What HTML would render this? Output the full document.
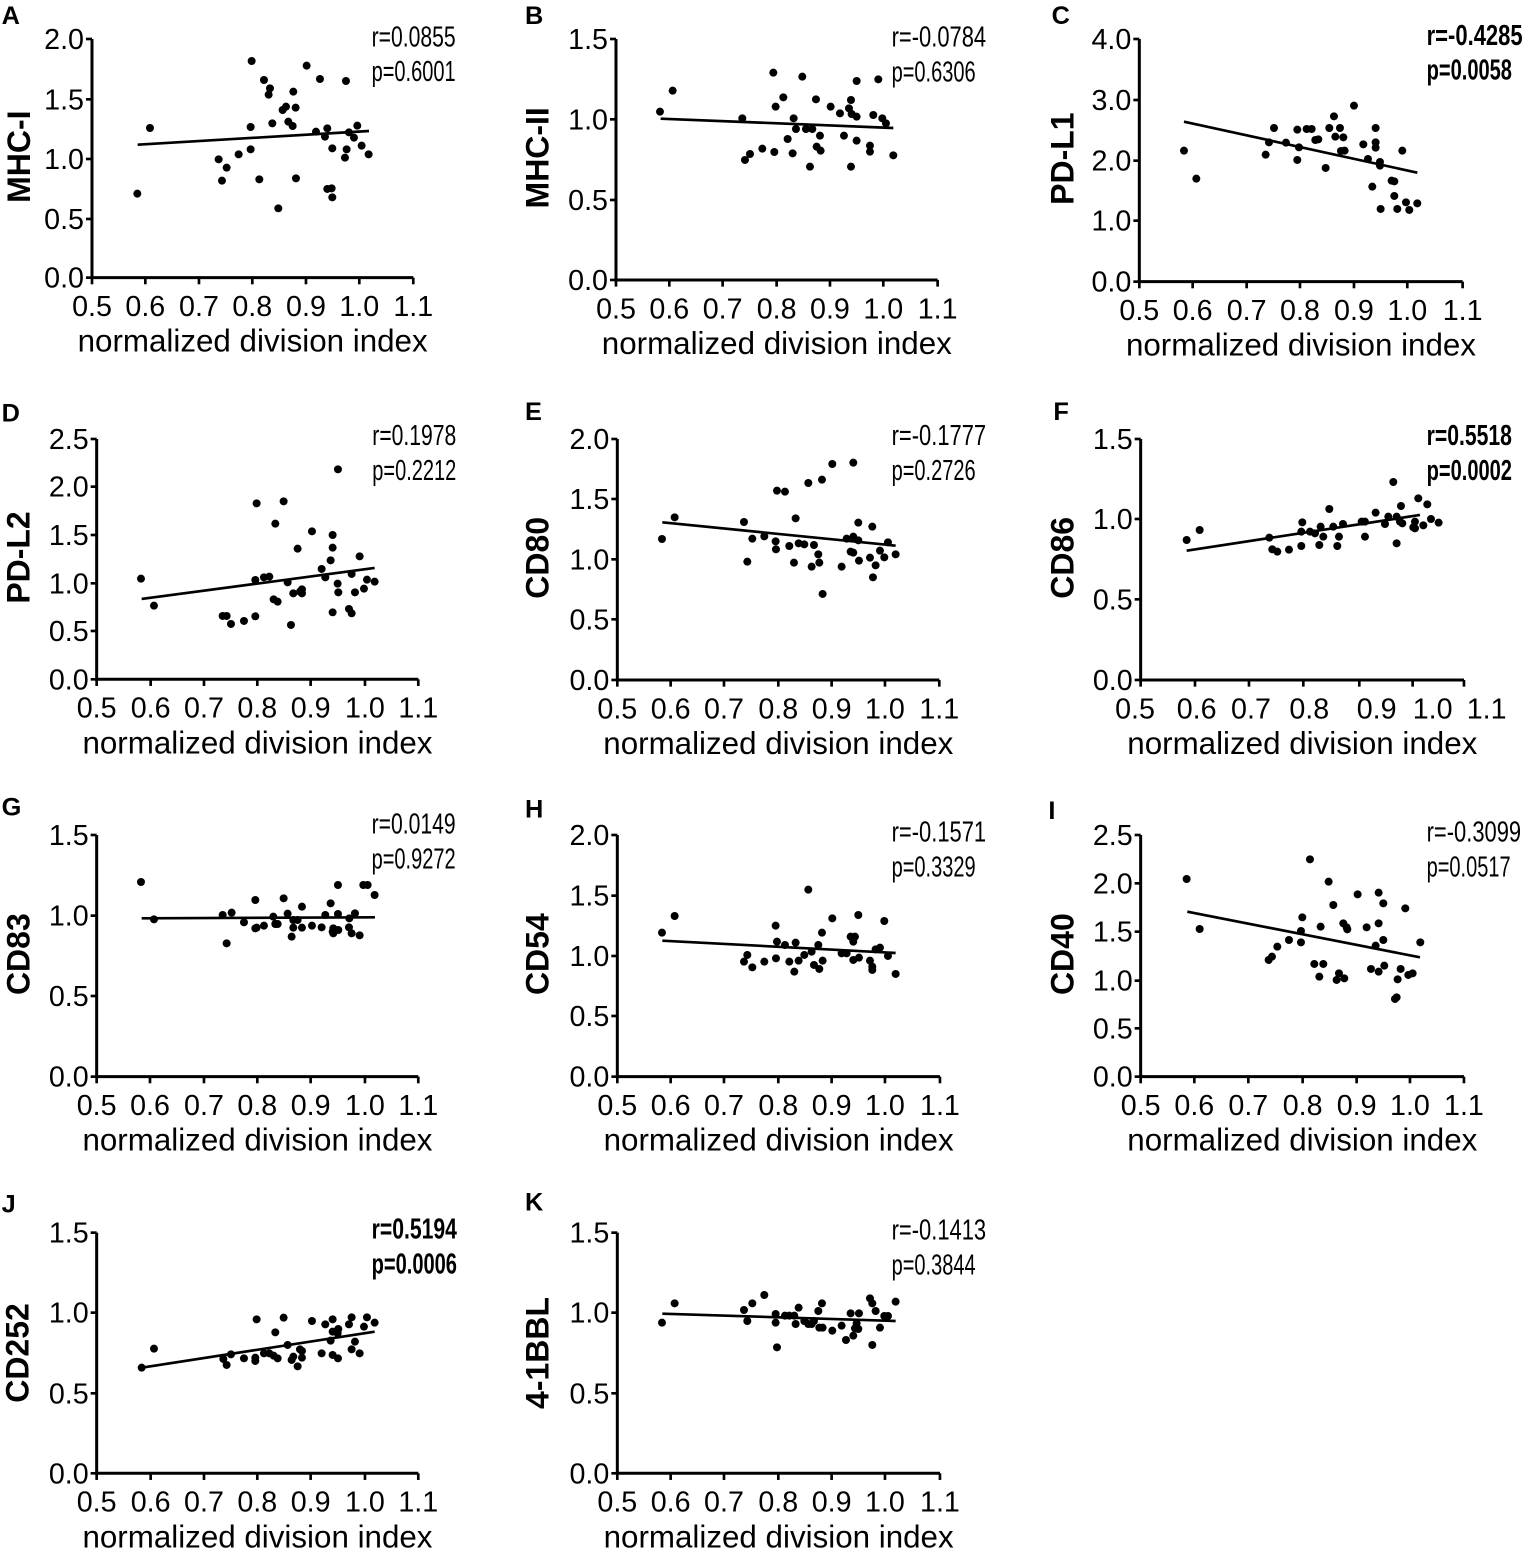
<!DOCTYPE html>
<html><head><meta charset="utf-8"><style>
html,body{margin:0;padding:0;background:#fff}
svg{display:block}
text{font-family:"Liberation Sans",Arial,sans-serif;fill:#000}
</style></head><body>
<svg id="s" width="1530" height="1555" viewBox="0 0 1530 1555" xmlns="http://www.w3.org/2000/svg"></svg>
<script>
const P=[
{o:[0,0],L:'A',lp:[5,72],ax:276,ty:117,by:833,rx:1240,xt:[276,436,597,757,918,1078,1240],yt:[['2.0',117],['1.5',298],['1.0',477],['0.5',657],['0.0',833]],yl:'MHC-I',ylx:90,st:['r=0.0855','p=0.6001'],sx:1115,sy:[140,243],b:0,ln:[413,434,1107,393],
pts:[[412,581],[450,384],[656,478],[666,542],[680,503],[716,463],[752,448],[752,381],[755,183],[778,538],[792,240],[810,265],[806,284],[817,370],[835,625],[848,330],[858,320],[865,365],[878,378],[880,275],[887,323],[888,535],[920,197],[948,395],[960,237],[975,410],[982,385],[982,567],[995,565],[997,445],[997,592],[1035,473],[1038,243],[1040,448],[1047,397],[1062,413],[1072,377],[1085,437],[1106,463]]},
{o:[510,0],L:'B',lp:[45,72],ax:318,ty:117,by:840,rx:1283,xt:[318,478,638,800,960,1120,1283],yt:[['1.5',117],['1.0',358],['0.5',600],['0.0',840]],yl:'MHC-II',ylx:115,st:['r=-0.0784','p=0.6306'],sx:1145,sy:[140,245],b:0,ln:[452,356,1150,384],
pts:[[450,335],[488,272],[697,355],[705,480],[720,462],[757,446],[790,218],[793,456],[797,320],[820,292],[833,417],[848,460],[851,355],[858,387],[877,230],[888,387],[900,500],[907,387],[918,298],[920,440],[930,407],[932,452],[962,320],[990,340],[1002,407],[1017,325],[1023,300],[1025,342],[1040,243],[1040,422],[1040,350],[1023,500],[1080,437],[1080,455],[1090,345],[1105,238],[1117,355],[1128,370],[1150,466]]},
{o:[1040,0],L:'C',lp:[35,72],ax:298,ty:117,by:845,rx:1268,xt:[298,458,620,780,942,1102,1268],yt:[['4.0',117],['3.0',300],['2.0',482],['1.0',662],['0.0',845]],yl:'PD-L1',ylx:100,st:['r=-0.4285','p=0.0058'],sx:1160,sy:[135,238],b:1,ln:[432,365,1132,518],
pts:[[432,452],[469,536],[677,464],[687,427],[702,384],[738,428],[772,389],[772,480],[777,442],[800,387],[815,387],[826,420],[835,418],[857,504],[868,384],[882,349],[886,410],[900,384],[903,453],[910,412],[914,452],[942,317],[970,433],[984,477],[997,560],[1007,384],[1007,427],[1007,443],[1020,486],[1020,497],[1022,627],[1055,542],[1063,544],[1063,588],[1072,627],[1087,452],[1098,607],[1108,630],[1132,610]]},
{o:[0,400],L:'D',lp:[5,64],ax:290,ty:117,by:838,rx:1255,xt:[290,452,612,772,932,1095,1255],yt:[['2.5',117],['2.0',260],['1.5',405],['1.0',550],['0.5',693],['0.0',838]],yl:'PD-L2',ylx:88,st:['r=0.1978','p=0.2212'],sx:1117,sy:[135,240],b:0,ln:[425,597,1124,504],
pts:[[423,536],[462,617],[668,648],[680,648],[693,672],[732,663],[766,649],[766,540],[770,310],[792,532],[808,530],[821,598],[826,371],[833,605],[851,304],[863,547],[873,675],[880,580],[893,446],[900,575],[906,580],[906,568],[936,394],[965,507],[976,532],[992,481],[998,405],[998,443],[998,637],[1014,208],[1013,551],[1015,577],[1047,627],[1055,640],[1055,522],[1065,577],[1079,469],[1092,566],[1101,539],[1124,545]]},
{o:[510,400],L:'E',lp:[45,60],ax:322,ty:117,by:840,rx:1288,xt:[322,482,642,805,965,1125,1288],yt:[['2.0',117],['1.5',297],['1.0',478],['0.5',658],['0.0',840]],yl:'CD80',ylx:115,st:['r=-0.1777','p=0.2726'],sx:1145,sy:[135,240],b:0,ln:[457,367,1157,437],
pts:[[456,417],[494,352],[702,366],[712,485],[727,416],[763,409],[797,424],[798,448],[801,272],[825,275],[838,438],[852,488],[857,355],[866,430],[883,433],[895,249],[905,500],[912,435],[925,463],[928,488],[936,239],[938,582],[967,192],[995,500],[1010,416],[1022,455],[1030,458],[1030,188],[1030,410],[1047,482],[1045,368],[1045,421],[1080,473],[1087,380],[1089,532],[1097,496],[1110,452],[1123,472],[1134,427],[1157,463]]},
{o:[1040,400],L:'F',lp:[40,60],ax:302,ty:117,by:840,rx:1272,xt:[302,465,627,790,958,1118,1272],xl:[285,470,633,808,1010,1178,1340],yt:[['1.5',117],['1.0',357],['0.5',598],['0.0',840]],yl:'CD86',ylx:100,st:['r=0.5518','p=0.0002'],sx:1160,sy:[135,240],b:1,ln:[440,452,1140,345],
pts:[[440,420],[479,390],[688,413],[697,448],[712,455],[747,449],[784,438],[787,367],[784,395],[810,395],[825,400],[838,435],[842,380],[850,410],[868,327],[880,380],[892,438],[897,410],[909,372],[965,365],[975,365],[975,410],[1007,338],[1035,372],[1045,350],[1060,246],[1070,430],[1070,350],[1080,365],[1083,318],[1087,370],[1120,382],[1125,385],[1125,365],[1135,295],[1150,376],[1162,313],[1173,357],[1196,368]]},
{o:[0,795],L:'G',lp:[5,62],ax:290,ty:120,by:845,rx:1255,xt:[290,450,612,772,932,1095,1255],yt:[['1.5',120],['1.0',362],['0.5',603],['0.0',845]],yl:'CD83',ylx:88,st:['r=0.0149','p=0.9272'],sx:1115,sy:[115,220],b:0,ln:[425,370,1125,367],
pts:[[423,261],[462,373],[668,360],[680,445],[695,353],[732,382],[766,400],[766,315],[770,398],[792,392],[820,365],[826,387],[833,387],[851,310],[863,356],[875,425],[880,398],[893,375],[906,335],[906,398],[936,392],[965,397],[976,360],[992,325],[998,410],[1000,400],[1014,357],[1014,270],[1015,405],[1047,397],[1055,415],[1065,355],[1079,421],[1090,270],[1103,270],[1124,300],[1048,370],[1000,415],[880,375]]},
{o:[510,795],L:'H',lp:[45,67],ax:322,ty:120,by:845,rx:1290,xt:[322,482,642,805,965,1125,1290],yt:[['2.0',120],['1.5',302],['1.0',483],['0.5',663],['0.0',845]],yl:'CD54',ylx:115,st:['r=-0.1571','p=0.3329'],sx:1145,sy:[140,245],b:0,ln:[457,437,1157,474],
pts:[[456,413],[494,363],[702,500],[712,480],[727,517],[763,500],[797,392],[798,490],[801,440],[825,450],[838,500],[853,530],[857,443],[866,497],[883,480],[895,284],[905,470],[912,510],[925,450],[928,522],[936,413],[938,497],[967,370],[995,475],[1010,475],[1022,425],[1030,440],[1030,495],[1035,425],[1047,488],[1045,360],[1080,497],[1087,525],[1097,463],[1110,458],[1123,378],[1134,483],[1157,537],[1087,515]]},
{o:[1040,795],L:'I',lp:[25,72],ax:302,ty:120,by:845,rx:1272,xt:[302,463,625,788,950,1110,1272],yt:[['2.5',120],['2.0',265],['1.5',410],['1.0',557],['0.5',700],['0.0',845]],yl:'CD40',ylx:100,st:['r=-0.3099','p=0.0517'],sx:1160,sy:[140,245],b:0,ln:[442,350,1140,487],
pts:[[440,252],[479,402],[686,495],[696,485],[712,455],[747,435],[783,408],[783,442],[787,367],[810,193],[823,507],[838,545],[842,395],[850,507],[866,260],[880,330],[890,555],[897,535],[910,385],[913,550],[920,397],[922,403],[953,298],[980,397],[993,522],[1007,452],[1016,293],[1016,385],[1016,530],[1030,325],[1030,435],[1033,512],[1065,612],[1070,607],[1073,553],[1082,522],[1096,340],[1105,540],[1118,535],[1141,442]]},
{o:[0,1185],L:'J',lp:[5,82],ax:290,ty:143,by:865,rx:1255,xt:[290,452,612,772,932,1095,1255],yt:[['1.5',143],['1.0',383],['0.5',625],['0.0',865]],yl:'CD252',ylx:85,st:['r=0.5194','p=0.0006'],sx:1115,sy:[160,265],b:1,ln:[425,548,1124,440],
pts:[[425,548],[462,491],[670,522],[680,540],[693,508],[732,520],[766,528],[766,518],[770,403],[792,505],[808,505],[821,512],[826,442],[833,520],[851,398],[863,480],[875,525],[880,515],[893,544],[900,493],[906,518],[906,498],[936,408],[965,505],[976,418],[992,467],[998,403],[998,440],[998,510],[1014,520],[1015,432],[1013,445],[1047,418],[1055,397],[1055,493],[1065,470],[1079,505],[1092,425],[1101,397],[1124,413]]},
{o:[510,1185],L:'K',lp:[45,77],ax:322,ty:143,by:865,rx:1290,xt:[322,482,642,805,965,1125,1290],yt:[['1.5',143],['1.0',383],['0.5',625],['0.0',865]],yl:'4-1BBL',ylx:115,st:['r=-0.1413','p=0.3844'],sx:1145,sy:[163,268],b:0,ln:[457,386,1157,408],
pts:[[456,413],[494,355],[702,375],[712,408],[727,355],[763,330],[797,387],[797,413],[801,487],[825,392],[838,392],[853,392],[857,417],[866,368],[883,408],[895,417],[905,417],[912,408],[925,378],[928,428],[936,355],[938,428],[967,437],[995,422],[1008,465],[1022,385],[1030,452],[1035,430],[1040,415],[1047,385],[1045,432],[1080,340],[1087,480],[1087,355],[1097,378],[1110,428],[1123,393],[1134,393],[1157,350]]}
];
const xs=['0.5','0.6','0.7','0.8','0.9','1.0','1.1'];
let h='';
for(const p of P){
 h+=`<g transform="translate(${p.o[0]},${p.o[1]}) scale(0.3333)">`;
 h+=`<text x="${p.lp[0]}" y="${p.lp[1]}" font-size="76" font-weight="bold">${p.L}</text>`;
 h+=`<path d="M${p.ax},${p.ty}V${p.by}H${p.rx}" fill="none" stroke="#000" stroke-width="9"/>`;
 for(const [t,y] of p.yt){
  h+=`<path d="M${p.ax-18},${y}H${p.ax}" stroke="#000" stroke-width="8"/>`;
  h+=`<text x="${p.ax-24}" y="${y+30}" font-size="86" text-anchor="end">${t}</text>`;
 }
 p.xt.forEach((x,i)=>{
  h+=`<path d="M${x},${p.by}V${p.by+20}" stroke="#000" stroke-width="8"/>`;
  const lx=p.xl?p.xl[i]:x;
  h+=`<text x="${lx}" y="${p.by+115}" font-size="86" text-anchor="middle">${xs[i]}</text>`;
 });
 const cx=(p.ax+p.rx)/2;
 h+=`<text x="${cx}" y="${p.by+222}" font-size="94" text-anchor="middle">normalized division index</text>`;
 const cy=(p.ty+p.by)/2+ (p.ty<125?-5:0);
 h+=`<text transform="translate(${p.ylx},${cy}) rotate(-90)" font-size="96" font-weight="bold" text-anchor="middle">${p.yl}</text>`;
 p.st.forEach((s,i)=>{
  h+=`<text x="${p.sx}" y="${p.sy[i]}" font-size="86" ${p.b?'font-weight="bold"':''} textLength="${s.length*(p.b?32:31.5)}" lengthAdjust="spacingAndGlyphs">${s}</text>`;
 });
 h+=`<line x1="${p.ln[0]}" y1="${p.ln[1]}" x2="${p.ln[2]}" y2="${p.ln[3]}" stroke="#000" stroke-width="8"/>`;
 for(const [x,y] of p.pts) h+=`<circle cx="${x}" cy="${y}" r="12"/>`;
 h+='</g>';
}
document.getElementById('s').innerHTML=h;
</script>
</body></html>
